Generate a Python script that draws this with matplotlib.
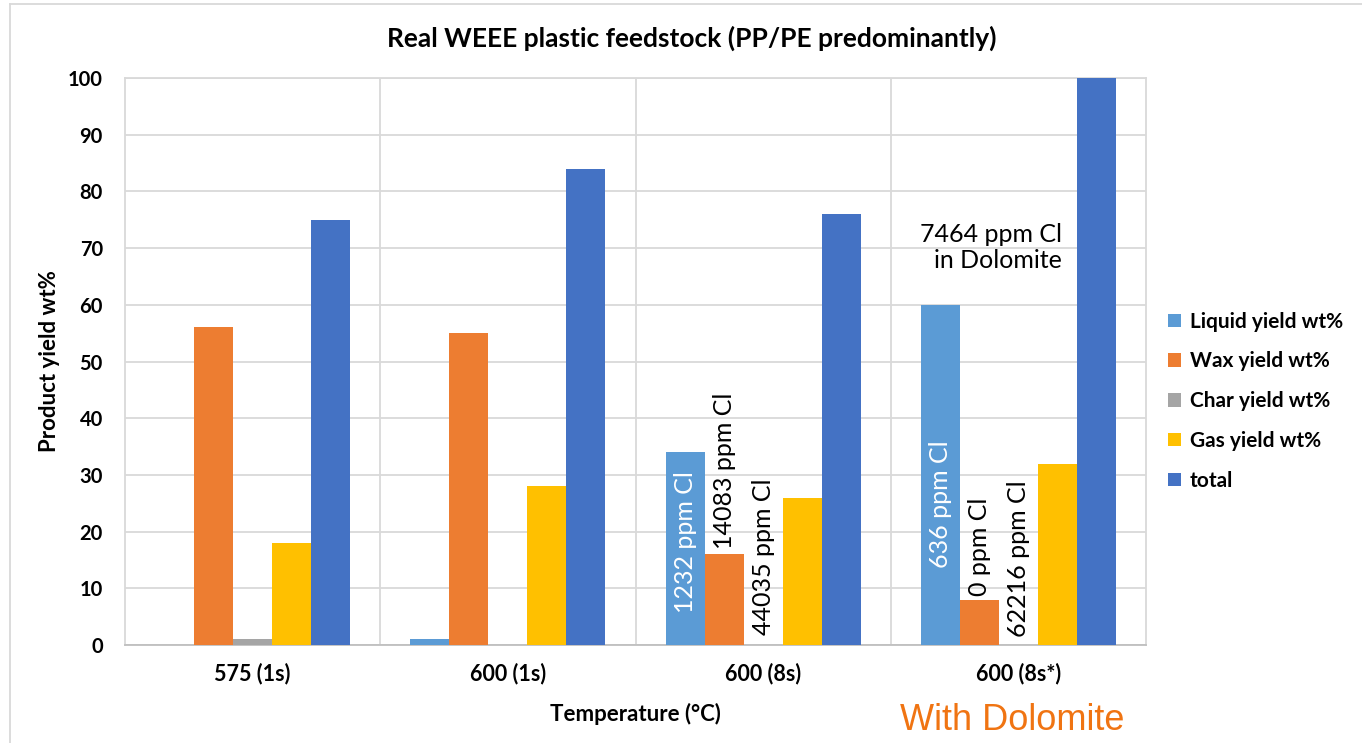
import numpy as np
import matplotlib.pyplot as plt
from matplotlib.lines import Line2D

# data
groups = ['575 (1s)', '600 (1s)', '600 (8s)', '600 (8s*)']
series = ['Liquid yield wt%', 'Wax yield wt%', 'Char yield wt%', 'Gas yield wt%', 'total']
liquid = [0, 1, 34, 60]
wax = [56, 55, 16, 8]
char = [1, 0, 0, 0]
gas = [18, 28, 26, 32]
total = [75, 84, 76, 100]
colors = ['#5B9BD5', '#ED7D31', '#A5A5A5', '#FFC000', '#4472C4']

# Cl labels: (group, series index, y position, text, colour)
cl_labels = [
    (2, 0, 5.6, '1232 ppm Cl', 'white'),
    (2, 1, 16.9, '14083 ppm Cl', 'black'),
    (2, 2, 1.8, '44035 ppm Cl', 'black'),
    (3, 0, 13.6, '636 ppm Cl', 'white'),
    (3, 1, 8.6, '0 ppm Cl', 'black'),
    (3, 2, 1.4, '62216 ppm Cl', 'black'),
]

plt.rcParams['font.family'] = ['Lato', 'DejaVu Sans']

fig = plt.figure(figsize=(13.62, 7.43), dpi=100)
ax = fig.add_axes([125 / 1362, 1 - 645 / 743, (1146 - 125) / 1362, (645 - 78) / 743])

x = np.arange(len(groups))
w = 0.1526
values = [liquid, wax, char, gas, total]
for i, (name, vals) in enumerate(zip(series, values)):
    ax.bar(x + (i - 2) * w, vals, w, color=colors[i], label=name, zorder=3)

ax.set_xlim(-0.5, 3.5)
ax.set_ylim(0, 100)
ax.set_yticks(np.arange(0, 101, 10))
ax.set_xticks(x)
ax.set_xticklabels(groups, fontweight='bold', fontsize=15.5)
for t in ax.get_yticklabels():
    t.set_fontweight('bold')
    t.set_fontsize(14.5)
ax.tick_params(length=0)
ax.tick_params(axis='y', pad=16)
ax.tick_params(axis='x', pad=13)

# grid
ax.yaxis.grid(True, color='#D9D9D9', lw=1.3, zorder=0)
for b in [0.5, 1.5, 2.5]:
    ax.axvline(b, color='#D9D9D9', lw=1.3, zorder=0)
for s in ['top', 'left', 'right', 'bottom']:
    ax.spines[s].set_color('#D9D9D9')
    ax.spines[s].set_linewidth(1.3)
ax.spines['bottom'].set_color('#BFBFBF')

fig.text(692 / 1362, 1 - 38 / 743, 'Real WEEE plastic feedstock (PP/PE predominantly)',
         fontweight='bold', fontsize=19, ha='center', va='center')
ax.set_ylabel('Product yield wt%', fontweight='bold', fontsize=16, labelpad=6)
ax.set_xlabel('Temperature (°C)', fontweight='bold', fontsize=16, labelpad=13)

for g, si, yv, txt, c in cl_labels:
    ax.text(g + (si - 2) * w, yv, txt, rotation=90, ha='center', va='bottom',
            color=c, fontsize=18, zorder=4)

ax.text(3.171, 70.1, '7464 ppm Cl\nin Dolomite', ha='right', va='center',
        fontsize=18, linespacing=1.2, zorder=4)

fig.text(1012 / 1362, 1 - 721 / 743, 'With Dolomite', color='#F07412',
         fontsize=26, ha='center', va='center', family=['Liberation Sans', 'DejaVu Sans'])

leg = ax.legend(loc='center left', bbox_to_anchor=(1.003, 0.43), frameon=False,
                prop={'weight': 'bold', 'size': 15}, handlelength=0.62,
                handleheight=0.62, handletextpad=0.45, labelspacing=0.95)

# outer chart border
fig.add_artist(Line2D([10 / 1362, 10 / 1362], [0, 1 - 4 / 743], color='#D9D9D9', lw=1.3))
fig.add_artist(Line2D([10 / 1362, 1], [1 - 4 / 743, 1 - 4 / 743], color='#D9D9D9', lw=1.3))

fig.savefig('out.png', dpi=100)
